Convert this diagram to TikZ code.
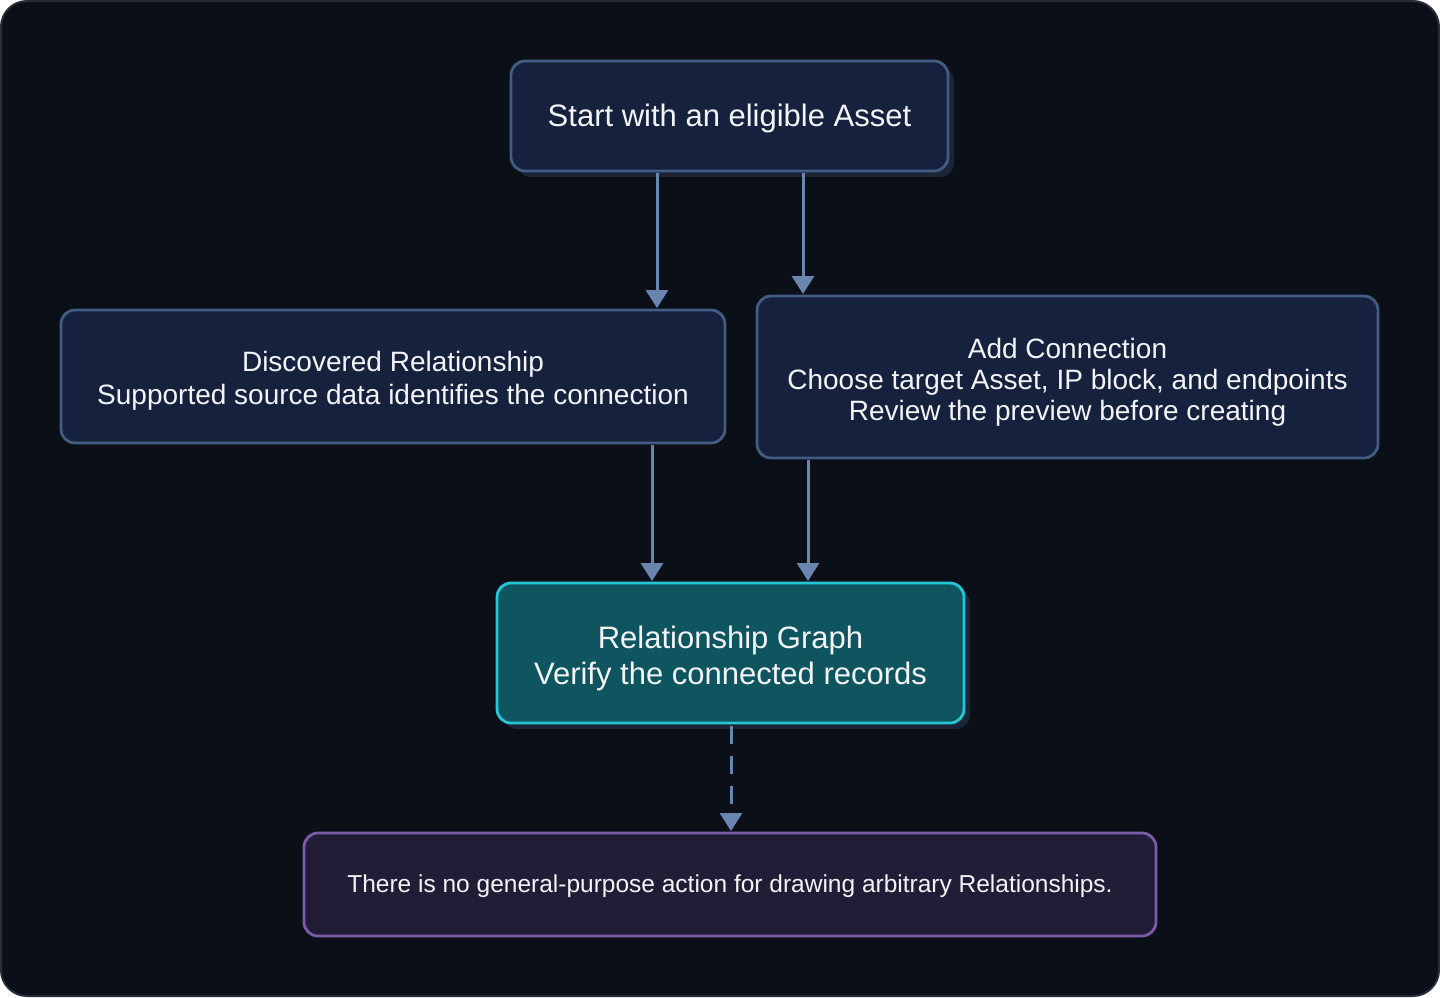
\documentclass[tikz,border=0pt]{standalone}
\usepackage{fontspec}
\setmainfont{Liberation Sans}
\usetikzlibrary{arrows.meta}
\definecolor{bg}{HTML}{0B0F17}
\definecolor{bgline}{HTML}{262C3A}
\definecolor{boxfill}{HTML}{16213D}
\definecolor{boxline}{HTML}{435C82}
\definecolor{shadowc}{HTML}{1E2438}
\definecolor{tealfill}{HTML}{0E5560}
\definecolor{tealline}{HTML}{25C6D6}
\definecolor{purfill}{HTML}{211D36}
\definecolor{purline}{HTML}{7B5CA6}
\definecolor{arr}{HTML}{6A86AE}
\definecolor{txt}{HTML}{F2F4F8}
\begin{document}
\begin{tikzpicture}[x=1pt,y=-1pt,
  box/.style={rounded corners=14pt,line width=2.8pt},
  shadowbox/.style={rounded corners=14pt,fill=shadowc},
  lbl/.style={text=txt,align=center},
  conn/.style={draw=arr,line width=3pt,-{Triangle[length=18pt,width=22pt]}}]
\useasboundingbox (0,0) rectangle (1440,997);
\fill[bg,draw=bgline,line width=2pt,rounded corners=26pt] (1,1) rectangle (1439,996);
% start
\fill[shadowbox] (517,67) rectangle (954,177);
\draw[box,fill=boxfill,draw=boxline] (511,61) rectangle (948,171);
\node[lbl,font=\fontsize{31}{36}\selectfont] (start) at (729.5,118) {Start with an eligible Asset};
% discovered
\draw[box,fill=boxfill,draw=boxline] (61,310) rectangle (725,443);
\node[lbl,font=\fontsize{28}{33}\selectfont] (disc) at (393,381) {Discovered Relationship\\Supported source data identifies the connection};
% add
\draw[box,fill=boxfill,draw=boxline] (757,296) rectangle (1378,458);
\node[lbl,font=\fontsize{28}{31}\selectfont] (add) at (1067.5,382) {Add Connection\\Choose target Asset, IP block, and endpoints\\Review the preview before creating};
% graph
\fill[shadowbox] (503,589) rectangle (970,729);
\draw[box,fill=tealfill,draw=tealline] (497,583) rectangle (964,723);
\node[lbl,font=\fontsize{31}{36}\selectfont] (graph) at (730.5,658) {Relationship Graph\\Verify the connected records};
% bottom
\draw[box,fill=purfill,draw=purline] (304,833) rectangle (1156,936);
\node[lbl,font=\fontsize{24.5}{28}\selectfont] (note) at (730,886) {There is no general-purpose action for drawing arbitrary Relationships.};
% connectors
\coordinate (s1) at (657,173); \coordinate (d1) at (657,308);
\coordinate (s2) at (803,173); \coordinate (a1) at (803,294);
\coordinate (d2) at (652,445); \coordinate (g1) at (652,581);
\coordinate (a2) at (808,460); \coordinate (g2) at (808,581);
\coordinate (g3) at (731,726); \coordinate (n1) at (731,831);
\draw[conn] (s1) -- (d1);
\draw[conn] (s2) -- (a1);
\draw[conn] (d2) -- (g1);
\draw[conn] (a2) -- (g2);
\draw[conn,dash pattern=on 18pt off 12pt] (g3) -- (n1);
\end{tikzpicture}
\end{document}
